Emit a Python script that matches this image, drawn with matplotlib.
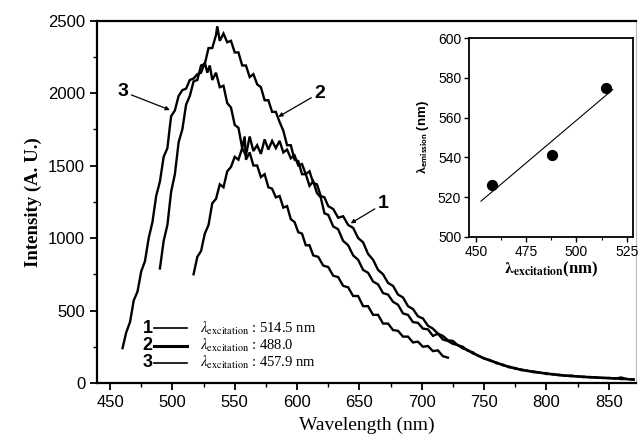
import matplotlib
matplotlib.use("Agg")
import matplotlib.pyplot as plt
import numpy as np

# --- spectrum 1 (excitation 514.5 nm) ---
wl_1 = [517, 520, 523, 526, 529, 532, 535, 538, 541, 544, 547, 550, 553, 556, 559,
        562, 565, 568, 571, 574, 577, 580, 583, 586, 589, 592, 595, 598, 601, 604,
        607, 610, 613, 616, 619, 622, 625, 629, 633, 637, 641, 645, 649, 653, 657,
        661, 665, 669, 673, 677, 681, 685, 689, 693, 697, 701, 705, 709, 713, 717,
        721, 725, 729, 733, 737, 741, 745, 750, 755, 760, 765, 770, 775, 780, 785,
        790, 795, 800, 805, 810, 815, 820, 825, 830, 835, 840, 845, 850, 855, 860,
        865, 870]
int_1 = [750, 870, 910, 1030, 1090, 1240, 1270, 1370, 1350, 1460, 1490, 1560, 1540, 1620, 1570,
         1700, 1600, 1640, 1580, 1680, 1610, 1670, 1620, 1670, 1590, 1610, 1550, 1570, 1500, 1510,
         1440, 1460, 1380, 1370, 1290, 1280, 1220, 1200, 1140, 1150, 1090, 1070, 1000, 970, 890,
         850, 780, 750, 690, 670, 610, 590, 530, 510, 460, 445, 395, 375, 340, 325,
         295, 290, 260, 250, 222, 212, 188, 172, 153, 142, 122, 114, 98, 94, 82,
         80, 70, 68, 58, 58, 50, 52, 44, 45, 38, 40, 34, 36, 30, 38,
         26, 26]

# --- spectrum 2 (excitation 488.0 nm) ---
wl_2 = [490, 493, 496, 499, 502, 505, 508, 511, 514, 517, 520, 523, 526, 529, 532,
        535, 536, 538, 541, 544, 547, 550, 553, 556, 559, 562, 565, 568, 571, 574,
        577, 580, 583, 586, 589, 592, 595, 598, 601, 604, 607, 610, 613, 616, 619,
        622, 625, 629, 633, 637, 641, 645, 649, 653, 657, 661, 665, 669, 673, 677,
        681, 685, 689, 693, 697, 701, 705, 709, 713, 717, 721, 725, 729, 733, 737,
        741, 745, 750, 755, 760, 765, 770, 775, 780, 785, 790, 795, 800, 805, 810,
        815, 820, 825, 830, 835, 840, 845, 850, 855, 860, 865, 870]
int_2 = [790, 980, 1090, 1320, 1440, 1660, 1750, 1920, 1980, 2080, 2090, 2190, 2200, 2310, 2310,
         2400, 2460, 2360, 2410, 2350, 2360, 2280, 2280, 2190, 2190, 2110, 2130, 2060, 2040, 1950,
         1950, 1870, 1870, 1800, 1740, 1640, 1640, 1540, 1530, 1440, 1440, 1360, 1390, 1310, 1280,
         1170, 1160, 1080, 1060, 980, 950, 880, 850, 780, 760, 700, 680, 620, 610, 560,
         540, 480, 470, 420, 415, 375, 370, 325, 340, 300, 290, 270, 262, 238, 228,
         204, 192, 168, 158, 136, 128, 108, 104, 88, 86, 74, 72, 62, 62, 53,
         52, 46, 47, 40, 42, 36, 37, 32, 33, 27, 28, 22]

# --- spectrum 3 (excitation 457.9 nm) ---
wl_3 = [460, 463, 466, 469, 472, 475, 478, 481, 484, 487, 490, 493, 496, 498, 499,
        502, 505, 508, 511, 514, 517, 520, 523, 526, 528, 530, 532, 535, 538, 541,
        544, 547, 550, 553, 556, 558, 559, 562, 565, 568, 571, 574, 577, 580, 583,
        586, 589, 592, 595, 598, 601, 604, 607, 610, 613, 617, 621, 625, 629, 633,
        637, 641, 645, 649, 653, 657, 661, 665, 669, 673, 677, 681, 685, 689, 693,
        697, 701, 705, 709, 713, 717, 721]
int_3 = [240, 350, 420, 570, 630, 770, 840, 1000, 1110, 1290, 1390, 1560, 1620, 1770, 1840,
         1880, 1980, 2020, 2030, 2090, 2100, 2130, 2140, 2210, 2140, 2190, 2090, 2140, 2040, 2050,
         1930, 1900, 1780, 1760, 1620, 1700, 1540, 1590, 1500, 1500, 1420, 1440, 1350, 1340, 1280,
         1290, 1210, 1220, 1130, 1110, 1040, 1030, 950, 950, 880, 870, 810, 800, 740, 730,
         670, 660, 600, 600, 530, 530, 470, 470, 410, 410, 365, 360, 320, 320, 280,
         285, 250, 255, 220, 225, 185, 175]

# --- inset: emission peak vs excitation wavelength ---
lam_exc = [457.9, 488.0, 514.5]
lam_em = [526, 541, 575]

legend_num = ["1", "2", "3"]
legend_txt = [r"$\lambda_{\mathrm{excitation}}$ : 514.5 nm",
              r"$\lambda_{\mathrm{excitation}}$ : 488.0",
              r"$\lambda_{\mathrm{excitation}}$ : 457.9 nm"]

sans = "Liberation Sans"
serif = "Liberation Serif"

fig = plt.figure(figsize=(6.38, 4.41), dpi=100)
ax = fig.add_axes([0.152, 0.1315, 0.845, 0.822])

for wl, it in [(wl_1, int_1), (wl_2, int_2), (wl_3, int_3)]:
    ax.plot(wl, it, color="black", lw=1.7, solid_joinstyle="miter")

ax.set_xlim(439.5, 872)
ax.set_ylim(0, 2500)
ax.set_xticks(np.arange(450, 851, 50))
ax.set_xticks(np.arange(475, 851, 50), minor=True)
ax.set_yticks(np.arange(0, 2501, 500))
ax.set_yticks(np.arange(250, 2500, 500), minor=True)
ax.tick_params(which="major", direction="out", length=5, width=1.3, labelsize=12)
ax.tick_params(which="minor", direction="out", length=3, width=1.0)
for lab in ax.get_xticklabels() + ax.get_yticklabels():
    lab.set_fontfamily(sans)
for s in ["left", "bottom", "top"]:
    ax.spines[s].set_linewidth(1.6)
ax.spines["right"].set_linewidth(0.8)
ax.spines["right"].set_color("#bbbbbb")

ax.set_xlabel("Wavelength (nm)", family=serif, fontsize=14, labelpad=5)
ax.set_ylabel("Intensity (A. U.)", family=serif, fontsize=13.5, fontweight="bold", labelpad=4)

# curve labels with arrows
arrow = dict(arrowstyle="-|>", color="black", lw=0.9, mutation_scale=6, shrinkA=0, shrinkB=0)
ax.annotate("3", xy=(498, 1883), xytext=(460.5, 2009), fontsize=14, fontweight="bold",
            family=sans, ha="center", va="center", arrowprops=arrow)
ax.annotate("2", xy=(585, 1836), xytext=(618, 2000), fontsize=14, fontweight="bold",
            family=sans, ha="center", va="center", arrowprops=arrow)
ax.annotate("1", xy=(643, 1101), xytext=(669, 1235), fontsize=14, fontweight="bold",
            family=sans, ha="center", va="center", arrowprops=arrow)

# hand-made legend
leg_y = [377, 257, 140]
leg_lw = [1.2, 2.2, 1.2]
for n, t, y, lw in zip(legend_num, legend_txt, leg_y, leg_lw):
    ax.text(480, y, n, fontsize=13, fontweight="bold", family=sans, ha="center", va="center")
    ax.plot([485, 512], [y, y], color="black", lw=lw)
    ax.text(522, y, t, fontsize=10.5, family=serif, math_fontfamily="stix",
            ha="left", va="center")

# inset
ins = fig.add_axes([0.735, 0.4626, 0.257, 0.4512])
ins.scatter(lam_exc, lam_em, s=50, marker="o", color="black", zorder=3)
k, b = np.polyfit(lam_exc, lam_em, 1)
xf = np.array([452.6, 518.0])
ins.plot(xf, k * xf + b, color="black", lw=0.8)
ins.set_xlim(446.6, 528)
ins.set_ylim(500, 600)
ins.set_xticks([450, 475, 500, 525])
ins.set_xticks([462.5, 487.5, 512.5], minor=True)
ins.set_yticks([500, 520, 540, 560, 580, 600])
ins.tick_params(which="major", direction="out", length=3.5, width=1.0, labelsize=10, pad=2)
ins.tick_params(which="minor", direction="out", length=2, width=0.8)
for lab in ins.get_xticklabels() + ins.get_yticklabels():
    lab.set_fontfamily(sans)
for s in ins.spines.values():
    s.set_linewidth(1.3)
ins.set_xlabel(r"$\mathbf{\lambda_{excitation}}$(nm)", family=serif, fontsize=12,
               fontweight="bold", math_fontfamily="stix", labelpad=1)
ins.set_ylabel(r"$\mathbf{\lambda_{emission}}$ (nm)", family=sans, fontsize=9.5,
               fontweight="bold", math_fontfamily="stixsans", labelpad=5)

fig.savefig("out.png", dpi=100)
